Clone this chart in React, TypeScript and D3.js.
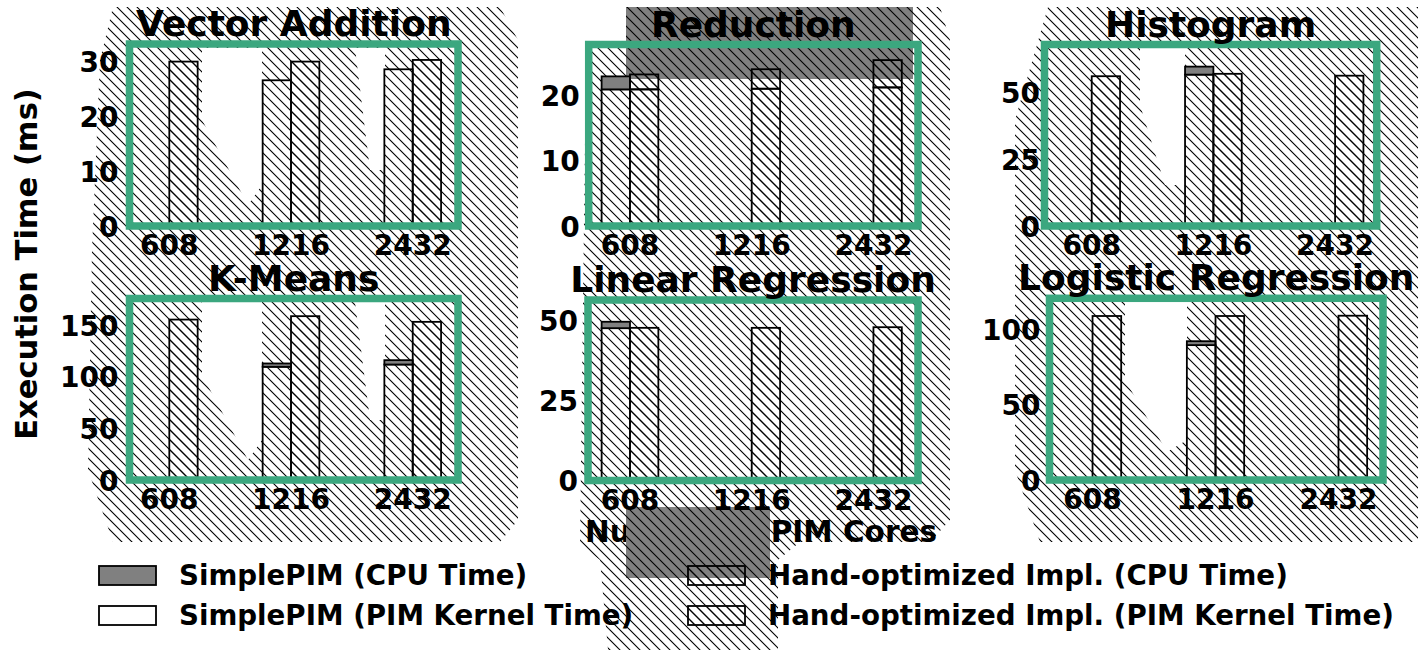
import * as d3 from 'd3';
import React from 'react';

// number of PIM cores
const groups = ['608', '1216', '2432'];
const titles = ['Vector Addition', 'Reduction', 'Histogram', 'K-Means', 'Linear Regression', 'Logistic Regression'];

// execution time (ms), one row per panel, null = bar not shown
const simpleKernel = [
  [null, 26.5, 28.5],
  [21.0, null, null],
  [null, 56.8, null],
  [null, 109.6, 111.8],
  [47.6, null, null],
  [null, 89.9, null],
];
const simpleCpu = [
  [null, 0, 0],
  [2.0, null, null],
  [null, 3.0, null],
  [null, 3.2, 4.2],
  [2.0, null, null],
  [null, 2.6, null],
];
const handKernel = [
  [29.9, 29.9, 30.2],
  [21.0, 21.1, 21.3],
  [56.2, 57.1, 56.4],
  [155.3, 158.6, 153.1],
  [47.7, 47.7, 47.9],
  [109.3, 109.3, 109.5],
];
const handCpu = [
  [0, 0, 0],
  [2.3, 3.0, 4.2],
  [0, 0, 0],
  [0, 0, 0],
  [0, 0, 0],
  [0, 0, 0],
];
const yTicks = [[0, 10, 20, 30], [0, 10, 20], [0, 25, 50], [0, 50, 100, 150], [0, 25, 50], [0, 50, 100]];
const yMax = [33.1, 27.9, 68.1, 175.7, 56.4, 121.1];

const legendLabels = [
  'SimplePIM (CPU Time)',
  'SimplePIM (PIM Kernel Time)',
  'Hand-optimized Impl. (CPU Time)',
  'Hand-optimized Impl. (PIM Kernel Time)',
];

// panel frames in pixels
const frames = [
  { l: 129.5, r: 458, t: 44, b: 226, d0: -0.327, d1: 2.372, lab: 11 },
  { l: 588.7, r: 918, t: 44.5, b: 226, d0: -0.339, d1: 2.366, lab: 9 },
  { l: 1044.5, r: 1376.7, t: 44.5, b: 226, d0: -0.388, d1: 2.342, lab: 4.5 },
  { l: 129.5, r: 458, t: 298.5, b: 480, d0: -0.327, d1: 2.372, lab: 11 },
  { l: 588, r: 918, t: 300, b: 480.5, d0: -0.345, d1: 2.366, lab: 10 },
  { l: 1049.5, r: 1383, t: 298.3, b: 480, d0: -0.35, d1: 2.362, lab: 9 },
];
const barW = 0.233;
const green = '#3ba77f';
const grey = '#808080';

// hatched background areas and the white holes in them
const hatchAreas = [
  [[113, 7], [500, 7], [518, 40], [518, 520], [500, 542], [113, 542], [88, 470], [92, 250], [100, 60]],
  [[590, 42], [626, 42], [626, 7], [940, 7], [950, 40], [950, 520], [930, 542], [800, 542], [778, 560], [778, 650], [608, 650], [600, 560], [580, 545], [586, 60]],
  [[1048, 7], [1418, 7], [1418, 542], [1040, 542], [1015, 470], [1015, 120]],
];
const holes = [
  [[202, 48], [262, 48], [262, 185], [248, 205], [202, 120]],
  [[355, 48], [385, 48], [385, 170], [370, 170]],
  [[202, 302], [262, 302], [262, 440], [248, 460], [202, 375]],
  [[355, 302], [385, 302], [385, 420], [370, 420]],
  [[1140, 48], [1185, 48], [1185, 185], [1165, 185], [1140, 105]],
  [[1125, 302], [1187, 302], [1187, 440], [1167, 452], [1125, 380]],
];
const greyBoxes = [[626, 7, 913, 79], [626, 507, 770, 578]];

const poly = d3.line().curve(d3.curveLinearClosed);

function Panel({ i }) {
  const f = frames[i];
  const x = d3.scaleLinear().domain([f.d0, f.d1]).range([f.l, f.r]);
  const y = d3.scaleLinear().domain([0, yMax[i]]).range([f.b, f.t]);
  const bars = [];
  groups.forEach((g, j) => {
    const sk = simpleKernel[i][j];
    const sc = simpleCpu[i][j];
    if (sk != null) {
      bars.push(<rect key={'sk' + j} x={x(j - barW)} width={x(j) - x(j - barW)} y={y(sk)} height={y(0) - y(sk)}
        fill="none" stroke="#000" strokeWidth={1.8} />);
      if (sc) bars.push(<rect key={'sc' + j} x={x(j - barW)} width={x(j) - x(j - barW)} y={y(sk + sc)} height={y(sk) - y(sk + sc)}
        fill={grey} stroke="#000" strokeWidth={1.8} />);
    }
    const hk = handKernel[i][j];
    const hc = handCpu[i][j];
    bars.push(<rect key={'hk' + j} x={x(j)} width={x(j + barW) - x(j)} y={y(hk)} height={y(0) - y(hk)}
      fill="url(#hatch)" stroke="#000" strokeWidth={1.8} />);
    if (hc) bars.push(<rect key={'hc' + j} x={x(j)} width={x(j + barW) - x(j)} y={y(hk + hc)} height={y(hk) - y(hk + hc)}
      fill="url(#hatch)" stroke="#000" strokeWidth={1.8} />);
  });
  return (
    <g>
      {bars}
      <rect x={f.l} y={f.t} width={f.r - f.l} height={f.b - f.t} fill="none" stroke={green} strokeWidth={7.5} />
      {yTicks[i].map((t) => (
        <text key={t} x={f.l - f.lab} y={y(t) + 10.5} textAnchor="end" fontSize={28}>{t}</text>
      ))}
      {groups.map((g, j) => (
        <text key={g} x={x(j)} y={f.b + 29} textAnchor="middle" fontSize={28}>{g}</text>
      ))}
      <text x={(f.l + f.r) / 2} y={f.t - 8} textAnchor="middle" fontSize={36}>{titles[i]}</text>
    </g>
  );
}

export default function App() {
  const legendX = [99, 688];
  const legendY = [566, 606];
  const legendFill = [grey, 'none', 'url(#hatch)', 'url(#hatch)'];
  return (
    <svg width={1418} height={650} style={{ position: 'absolute', left: 0, top: 0, background: '#fff' }}
      fontFamily="DejaVu Sans" fontWeight="bold">
      <defs>
        <pattern id="hatch" patternUnits="userSpaceOnUse" width={10} height={10}>
          <path d="M0,0L10,10M-1,9L1,11M9,-1L11,1" stroke="#000" strokeWidth={1.1} />
        </pattern>
      </defs>
      {hatchAreas.map((p, k) => <path key={'h' + k} d={poly(p)} fill="url(#hatch)" />)}
      {holes.map((p, k) => <path key={'w' + k} d={poly(p)} fill="#fff" />)}
      <text x={761} y={542} textAnchor="middle" fontSize={29.5}>Number of PIM Cores</text>
      {greyBoxes.map((b, k) => (
        <g key={'g' + k}>
          <rect x={b[0]} y={b[1]} width={b[2] - b[0]} height={b[3] - b[1]} fill={grey} />
          <rect x={b[0]} y={b[1]} width={b[2] - b[0]} height={b[3] - b[1]} fill="url(#hatch)" />
        </g>
      ))}
      {titles.map((t, i) => <Panel key={t} i={i} />)}
      <text transform="translate(37,264) rotate(-90)" textAnchor="middle" fontSize={30.5}>Execution Time (ms)</text>
      {legendLabels.map((l, k) => {
        const cx = legendX[Math.floor(k / 2)];
        const cy = legendY[k % 2];
        return (
          <g key={l}>
            <rect x={cx} y={cy} width={57} height={19} fill={legendFill[k]} stroke="#000" strokeWidth={1.8} />
            <text x={cx + 80} y={cy + 19} fontSize={27.7}>{l}</text>
          </g>
        );
      })}
    </svg>
  );
}
